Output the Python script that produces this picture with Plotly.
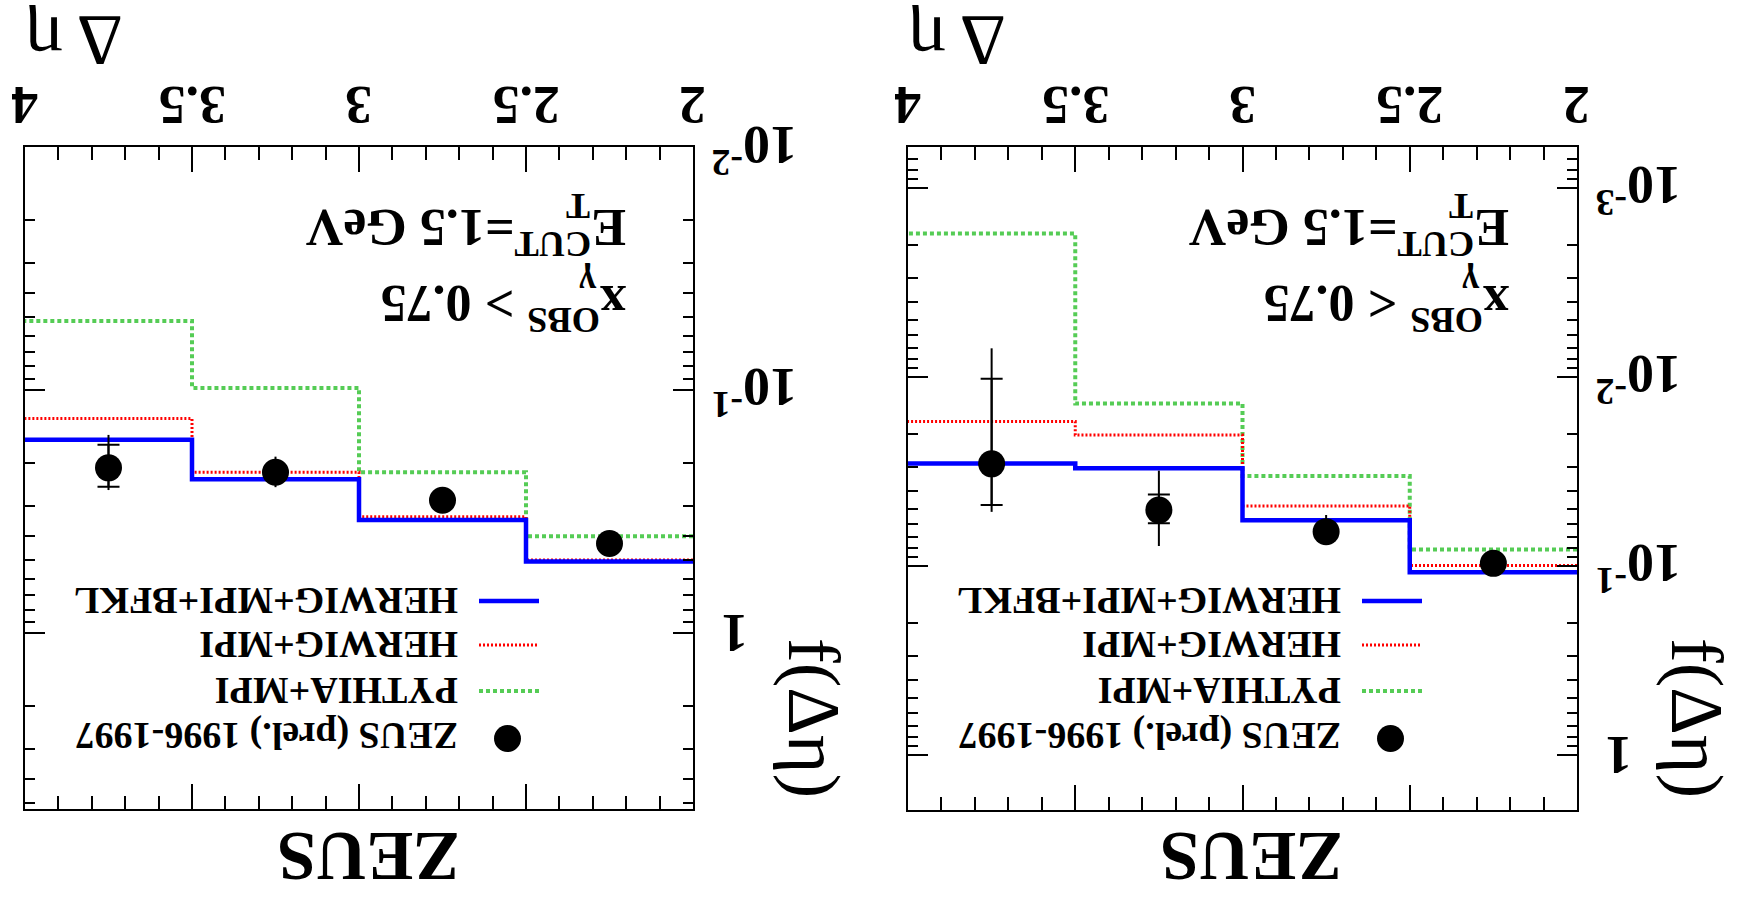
import math
import plotly.graph_objects as go

W, H = 1739, 898
SERIF = "Liberation Serif"

# ---------------- data ----------------
edges = [2.0, 2.5, 3.0, 3.5, 4.0]
centers = [2.25, 2.75, 3.25, 3.75]

# panel 1: x_gamma^OBS > 0.75
hi_bfkl = [0.508, 0.343, 0.233, 0.160]
hi_herwig = [0.500, 0.332, 0.218, 0.131]
hi_pythia = [0.400, 0.218, 0.098, 0.052]
hi_data = [0.428, 0.284, 0.218, 0.209]
hi_stat_lo = [0.420, 0.278, 0.206, 0.168]
hi_stat_hi = [0.436, 0.290, 0.230, 0.250]
hi_tot_lo = [0.415, 0.275, 0.188, 0.153]
hi_tot_hi = [0.441, 0.293, 0.251, 0.258]

# panel 2: x_gamma^OBS < 0.75
lo_bfkl = [0.108, 0.0572, 0.0304, 0.0287]
lo_herwig = [0.0995, 0.0482, 0.0203, 0.0172]
lo_pythia = [0.0817, 0.0334, 0.0138, 0.00174]
lo_data = [0.0968, 0.0658, 0.0506, 0.0288]
lo_stat_lo = [0.094, 0.062, 0.0418, 0.0102]
lo_stat_hi = [0.100, 0.070, 0.0594, 0.0475]
lo_tot_lo = [0.092, 0.0537, 0.0313, 0.00705]
lo_tot_hi = [0.102, 0.076, 0.0784, 0.0517]

x_ticks = [2, 2.5, 3, 3.5, 4]
x_ticktext = ["2", "2.5", "3", "3.5", "4"]
hi_yticks = [0.01, 0.1, 1]
hi_yticktext = ["10<sup>-2</sup>", "10<sup>-1</sup>", "1"]
lo_yticks = [0.001, 0.01, 0.1, 1]
lo_yticktext = ["10<sup>-3</sup>", "10<sup>-2</sup>", "10<sup>-1</sup>", "1"]
legend_labels = ["HERWIG+MPI+BFKL", "HERWIG+MPI", "PYTHIA+MPI", "ZEUS (prel.) 1996-1997"]

BLUE = "#0000ff"
RED = "#ff0000"
GREEN = "#55cc55"


def px_x(x):
    return x / W


def px_y(y):
    return 1 - y / H


fig = go.Figure()

panels = [
    dict(xa="x", ya="y", bfkl=hi_bfkl, herwig=hi_herwig, pythia=hi_pythia, data=hi_data,
         slo=hi_stat_lo, shi=hi_stat_hi, tlo=hi_tot_lo, thi=hi_tot_hi,
         yt=hi_yticks, ytt=hi_yticktext, right=693, dx=0, cond="&gt;"),
    dict(xa="x2", ya="y2", bfkl=lo_bfkl, herwig=lo_herwig, pythia=lo_pythia, data=lo_data,
         slo=lo_stat_lo, shi=lo_stat_hi, tlo=lo_tot_lo, thi=lo_tot_hi,
         yt=lo_yticks, ytt=lo_yticktext, right=1577, dx=883, cond="&lt;"),
]

for p in panels:
    for vals, col, dash, wid in [(p["pythia"], GREEN, "4px,3px", 4),
                                 (p["herwig"], RED, "2px,2px", 3),
                                 (p["bfkl"], BLUE, "solid", 4.5)]:
        fig.add_trace(go.Scatter(
            x=edges, y=list(vals) + [vals[-1]], mode="lines", line_shape="hv",
            line=dict(color=col, dash=dash, width=wid), xaxis=p["xa"], yaxis=p["ya"],
            showlegend=False, hoverinfo="skip"))
    # total error (no caps)
    fig.add_trace(go.Scatter(
        x=centers, y=p["data"], mode="markers", marker=dict(size=1, color="black"),
        error_y=dict(type="data", symmetric=False,
                     array=[h - v for h, v in zip(p["thi"], p["data"])],
                     arrayminus=[v - l for l, v in zip(p["tlo"], p["data"])],
                     color="black", thickness=2, width=0),
        xaxis=p["xa"], yaxis=p["ya"], showlegend=False))
    # stat error with caps + marker
    fig.add_trace(go.Scatter(
        x=centers, y=p["data"], mode="markers",
        marker=dict(size=27, color="black", symbol="circle"),
        error_y=dict(type="data", symmetric=False,
                     array=[h - v for h, v in zip(p["shi"], p["data"])],
                     arrayminus=[v - l for l, v in zip(p["slo"], p["data"])],
                     color="black", thickness=2, width=11),
        xaxis=p["xa"], yaxis=p["ya"], showlegend=False))


def minor_vals(d0, d1):
    out = []
    for d in range(d0, d1 + 1):
        for k in range(2, 10):
            out.append(k * 10 ** d)
    return out


xcommon = dict(range=[4, 2], side="top", ticks="inside", ticklen=25, tickwidth=2,
               tickcolor="black", tickvals=x_ticks, ticktext=x_ticktext,
               showticklabels=False,
               showline=True, linecolor="black", linewidth=2, mirror="ticks",
               showgrid=False, zeroline=False, automargin=False,
               minor=dict(dtick=0.1, ticks="inside", ticklen=13, tickwidth=2,
                          tickcolor="black", showgrid=False))

ycommon = dict(type="log", side="right", ticks="inside", ticklen=20, tickwidth=2,
               tickcolor="black", showticklabels=False,
               showline=True, linecolor="black", linewidth=2, mirror="ticks",
               showgrid=False, zeroline=False, automargin=False)

fig.update_layout(
    width=W, height=H, margin=dict(l=0, r=0, t=0, b=0, autoexpand=False),
    paper_bgcolor="white", plot_bgcolor="white", showlegend=False,
    xaxis=dict(domain=[px_x(25), px_x(693)], anchor="y", **xcommon),
    xaxis2=dict(domain=[px_x(908), px_x(1577)], anchor="y2", **xcommon),
    yaxis=dict(domain=[px_y(809), px_y(147)], anchor="x", range=[0.724, -2],
               tickvals=hi_yticks, ticktext=hi_yticktext,
               minor=dict(tickvals=minor_vals(-2, 0), ticks="inside", ticklen=10,
                          tickwidth=2, tickcolor="black", showgrid=False),
               **ycommon),
    yaxis2=dict(domain=[px_y(810), px_y(147)], anchor="x2", range=[0.291, -3.217],
                tickvals=lo_yticks, ticktext=lo_yticktext,
                minor=dict(tickvals=minor_vals(-4, 0), ticks="inside", ticklen=10,
                           tickwidth=2, tickcolor="black", showgrid=False),
                **ycommon),
)

annotations = []
shapes = []


def ann(text, x, y, size, bold=True, angle=180, xanchor="center", yanchor="middle",
        height=None, xref="paper", yref="paper", yshift=0):
    a = dict(
        text=text, x=x, y=y, xref=xref, yref=yref,
        xanchor=xanchor, yanchor=yanchor, showarrow=False, textangle=angle,
        yshift=yshift,
        font=dict(family=SERIF, size=size, color="black",
                  weight="bold" if bold else "normal"))
    if height is not None:
        a["height"] = height
    annotations.append(a)


for p in panels:
    dx = p["dx"]
    # tick labels (rotated, placed through the axes' own scales)
    for v, t in zip(x_ticks, x_ticktext):
        ann(t, v, px_y(105), 54, xref=p["xa"], height=50)
    for v, t in zip(p["yt"], p["ytt"]):
        if "sup" in t:
            ann(t, px_x(p["right"] + 16), math.log10(v), 54, xanchor="left",
                yref=p["ya"], yshift=-2)
        else:
            ann(t, px_x(p["right"] + 42), math.log10(v), 54, yref=p["ya"])
    # axis titles
    ann("Δ η", px_x(74 + dx), px_y(41), 72, bold=False, height=72)
    ann("f(Δη)", px_x(814 + dx), px_y(718), 74, bold=False, angle=90)
    # cut labels
    ann("x<sup>OBS</sup> " + p["cond"] + " 0.75", px_x(628 + dx), px_y(307), 52,
        xanchor="right")
    ann("γ", px_x(588 + dx), px_y(283), 36)
    ann("E<sup>CUT</sup>=1.5 GeV", px_x(628 + dx), px_y(231), 52, xanchor="right")
    ann("T", px_x(578 + dx), px_y(206), 36)
    # ZEUS
    ann("ZEUS", px_x(369 + dx), px_y(857), 70)
    # legend
    ys = [601, 645, 691, 736]
    for lab, yy in zip(legend_labels, ys):
        ann(lab, px_x(460 + dx), px_y(yy), 38, xanchor="right")
    for (col, dash, wid), yy in zip([(BLUE, "solid", 4.5), (RED, "2px,2px", 3),
                                    (GREEN, "4px,3px", 4)], ys[:3]):
        shapes.append(dict(type="line", xref="paper", yref="paper",
                           x0=px_x(479 + dx), x1=px_x(539 + dx), y0=px_y(yy), y1=px_y(yy),
                           line=dict(color=col, dash=dash, width=wid)))
    shapes.append(dict(type="circle", xref="paper", yref="paper",
                       x0=px_x(494 + dx), x1=px_x(521 + dx), y0=px_y(725), y1=px_y(752),
                       fillcolor="black", line=dict(color="black", width=0)))

fig.update_layout(annotations=annotations, shapes=shapes)
fig.write_html("out.html")
